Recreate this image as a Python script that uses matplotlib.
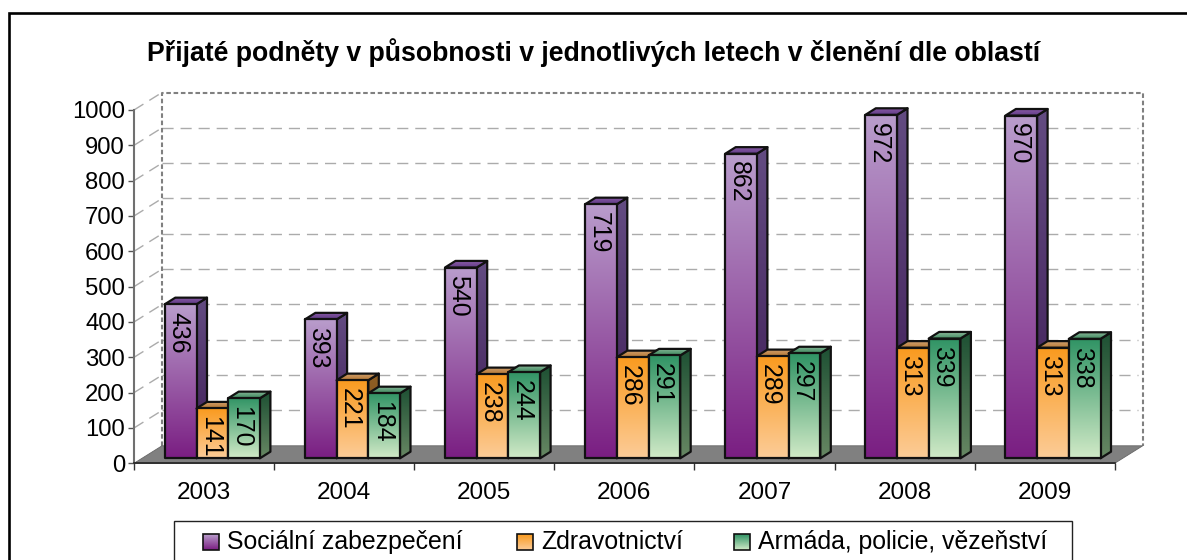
import numpy as np
import matplotlib
matplotlib.use("Agg")
import matplotlib.pyplot as plt
from matplotlib.patches import Polygon, Rectangle
from matplotlib.colors import LinearSegmentedColormap

years = ["2003", "2004", "2005", "2006", "2007", "2008", "2009"]
series_names = ["Sociální zabezpečení", "Zdravotnictví", "Armáda, policie, vězeňství"]
social = [436, 393, 540, 719, 862, 972, 970]
health = [141, 221, 238, 286, 289, 313, 313]
army = [170, 184, 244, 291, 297, 339, 338]
y_ticks = [0, 100, 200, 300, 400, 500, 600, 700, 800, 900, 1000]
title = "Přijaté podněty v působnosti v jednotlivých letech v členění dle oblastí"

# (front top, front bottom, side top, side bottom, cap back, cap front)
palettes = [
    ("#B99DCC", "#7A1E82", "#634C82", "#3E1C55", "#8A5CA6", "#5F3A86"),
    ("#F99A1E", "#FCCC98", "#8F5F24", "#7A4E1A", "#CFA070", "#B87A35"),
    ("#2F9364", "#D1EAC7", "#1D5033", "#678763", "#8DB89B", "#3D8A5E"),
]

plt.rcParams["font.family"] = ["Liberation Sans", "DejaVu Sans"]
W, H = 1187, 560
fig = plt.figure(figsize=(W / 100, H / 100), dpi=100, facecolor="white")
L, R, T, B = 134.0, 1114.7, 110.0, 463.3
ax = fig.add_axes([L / W, 1 - B / H, (R - L) / W, (B - T) / H])
ax.set_facecolor("none")
px_x = len(years) / (R - L)
px_y = 1000 / (B - T)


def grad_poly(verts, c_top, c_bottom, z):
    verts = np.asarray(verts, float)
    cmap = LinearSegmentedColormap.from_list("g", [c_top, c_bottom])
    data = np.linspace(0, 1, 256).reshape(-1, 1)
    ext = (verts[:, 0].min(), verts[:, 0].max(), verts[:, 1].min(), verts[:, 1].max())
    im = ax.imshow(data, cmap=cmap, extent=ext, aspect="auto", origin="upper",
                   zorder=z, interpolation="bilinear")
    im.set_clip_box(fig.bbox)
    im.set_clip_path(Polygon(verts, transform=ax.transData))
    ax.add_patch(Polygon(verts, closed=True, fill=False, edgecolor="#111111",
                         linewidth=1.6, zorder=z + 0.1, clip_on=False,
                         joinstyle="round"))


depth_x, depth_y = 28 * px_x, 17.5 * px_y
front_x, front_y = 8.3 * px_x, 5.0 * px_y
bar_dx, bar_dy = 10.5 * px_x, 6.6 * px_y
bar_w = 31.7 * px_x
n = len(years)

# floor
ax.add_patch(Polygon([(0, 0), (n, 0), (n + depth_x, depth_y), (depth_x, depth_y)],
                     facecolor="#808080", edgecolor="#666666", linewidth=0.6,
                     zorder=1, clip_on=False))
# back wall grid and side wall grid
for v in y_ticks[1:-1]:
    ax.plot([depth_x, n + depth_x - 0.03], [v + depth_y] * 2, color="#ABABAB", lw=1.0,
            dashes=(8, 5), zorder=0.5, clip_on=False)
for v in y_ticks[1:]:
    ax.plot([0, depth_x], [v, v + depth_y], color="#ABABAB", lw=1.0,
            dashes=(8, 5), zorder=0.5, clip_on=False)
wall_x = [depth_x, depth_x, n + depth_x, n + depth_x]
wall_y = [depth_y, 1000 + depth_y, 1000 + depth_y, depth_y]
ax.plot(wall_x, wall_y, color="#808080", lw=1.5, dashes=(2.2, 1.3), zorder=0.6, clip_on=False)

# bars
for i in range(n):
    vals = [social[i], health[i], army[i]]
    x0 = i + 0.5 + front_x - 1.5 * bar_w
    for j, (v, pal) in enumerate(zip(vals, palettes)):
        z = 2 + (i * 3 + j)
        xl, xr = x0 + j * bar_w, x0 + (j + 1) * bar_w
        yb, yt = front_y, front_y + v
        grad_poly([(xr, yb), (xr + bar_dx, yb + bar_dy), (xr + bar_dx, yt + bar_dy), (xr, yt)],
                  pal[2], pal[3], z)
        grad_poly([(xl, yt), (xr, yt), (xr + bar_dx, yt + bar_dy), (xl + bar_dx, yt + bar_dy)],
                  pal[4], pal[5], z + 0.2)
        grad_poly([(xl, yb), (xr, yb), (xr, yt), (xl, yt)], pal[0], pal[1], z + 0.4)
        ax.annotate(str(v), xy=((xl + xr) / 2, yt), xytext=(-1.8, -5.5),
                    textcoords="offset points", rotation=-90, ha="center", va="top",
                    fontsize=17.9, color="black", zorder=z + 0.6)

ax.set_xlim(0, n)
ax.set_ylim(0, 1000)
ax.set_yticks(y_ticks)
ax.set_yticklabels([str(v) for v in y_ticks])
ax.set_xticks(range(n + 1))
ax.set_xticklabels([])
ax.set_xticks(np.arange(n) + 0.5, labels=years, minor=True)
ax.tick_params(axis="y", length=4, width=1, color="#555555", labelsize=17.2, pad=2.5)
ax.tick_params(axis="x", which="major", length=5, width=1, color="#333333")
ax.tick_params(axis="x", which="minor", length=0, labelsize=17.5, pad=13.5)
for s in ("top", "right"):
    ax.spines[s].set_visible(False)
ax.spines["left"].set_color("#707070")
ax.spines["left"].set_linewidth(1.5)
ax.spines["bottom"].set_color("#222222")
ax.spines["bottom"].set_linewidth(1.2)
ax.spines["bottom"].set_zorder(60)

# frame, title, legend in a pixel overlay
ov = fig.add_axes([0, 0, 1, 1], facecolor="none")
ov.set_xlim(0, W)
ov.set_ylim(H, 0)
ov.axis("off")
ov.plot([8.5, 8.5, W], [H, 13, 13], color="black", lw=1.9, solid_joinstyle="miter")
ov.text(594, 53, title, ha="center", va="center", fontsize=19.2, fontweight="bold")
ov.add_patch(Rectangle((173.5, 520.5), 898, 50, facecolor="white", edgecolor="#222222", lw=1.0))
legend_x = [203, 517, 734]
for mx, name, pal in zip(legend_x, series_names, palettes):
    cmap = LinearSegmentedColormap.from_list("l", [pal[0], pal[1]])
    ov.imshow(np.linspace(0, 1, 64).reshape(-1, 1), cmap=cmap, aspect="auto",
              extent=(mx, mx + 16, 550, 534), origin="upper", zorder=3)
    ov.add_patch(Rectangle((mx, 534), 16, 16, fill=False, edgecolor="#111111", lw=1.2, zorder=4))
    ov.text(mx + 24, 542, name, ha="left", va="center", fontsize=17.9, zorder=4)
ov.set_xlim(0, W)
ov.set_ylim(H, 0)

fig.savefig("out.png", dpi=100)
